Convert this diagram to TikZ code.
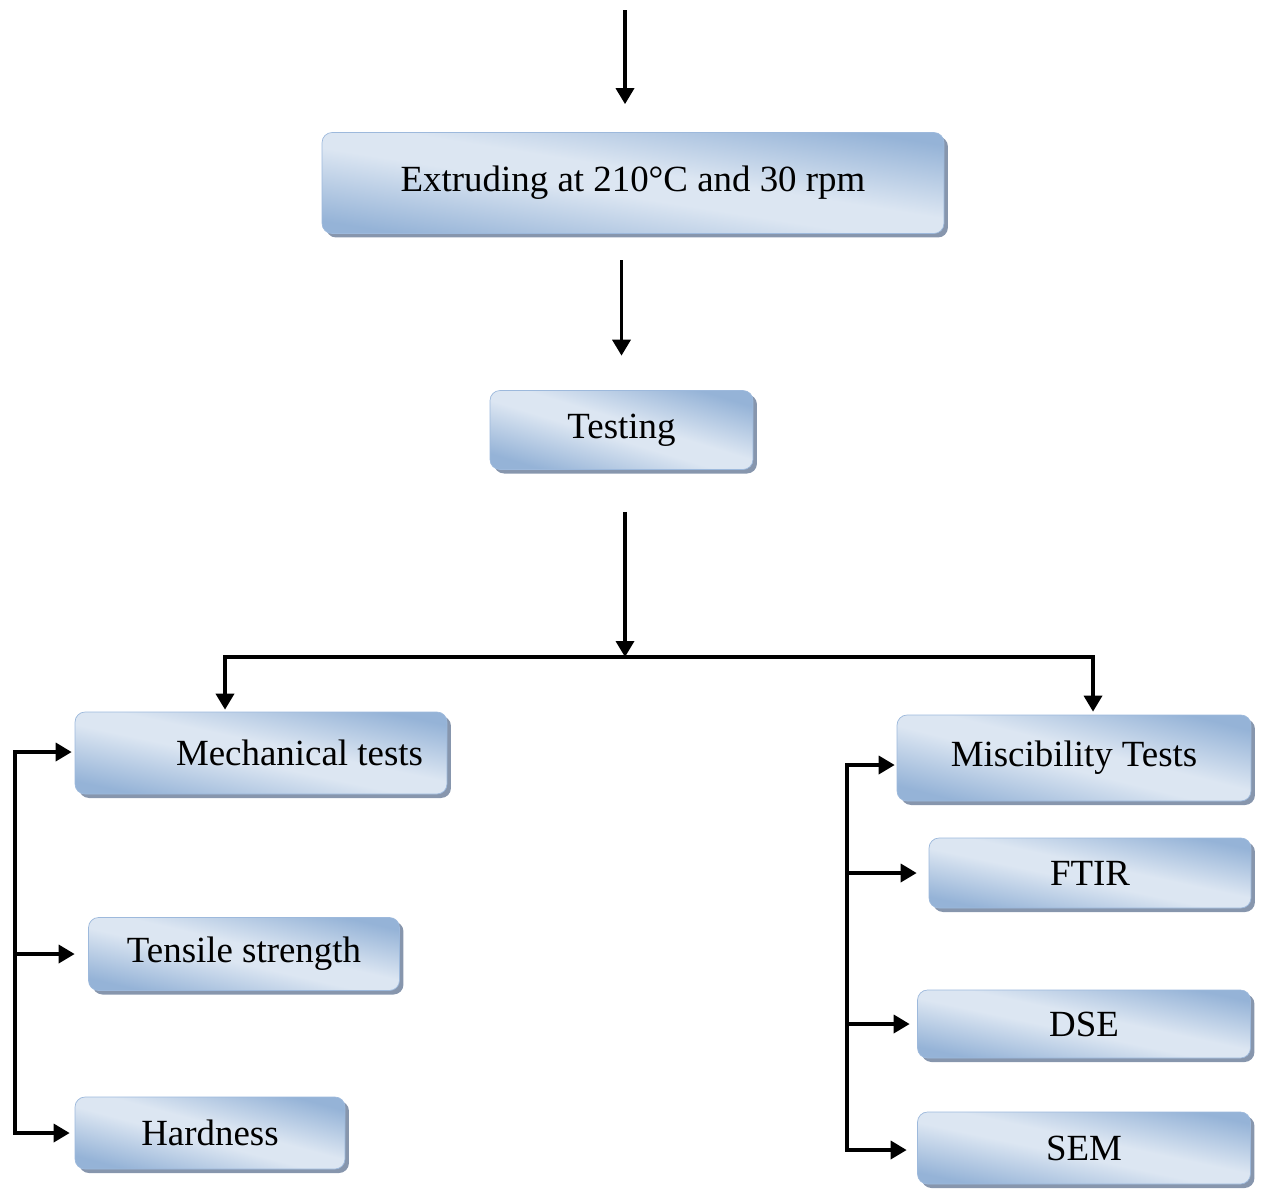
\documentclass[tikz,border=0pt]{standalone}
\usepackage{fontspec}
\setmainfont{Liberation Serif}
\usepackage{xcolor}
\usepackage{tikz}
\usetikzlibrary{arrows.meta,shadows}

\definecolor{boxlight}{HTML}{DCE6F2}
\definecolor{boxdark}{HTML}{95B3D7}
\definecolor{boxline}{HTML}{9DB9DC}
\definecolor{boxshadow}{HTML}{8796AD}
\pgfdeclareverticalshading{boxshade}{100bp}{color(0bp)=(boxdark); color(25bp)=(boxdark);
	color(46bp)=(boxlight); color(54bp)=(boxlight); color(75bp)=(boxdark); color(100bp)=(boxdark)}

\begin{document}
\begin{tikzpicture}[x=0.02cm,y=-0.02cm,
	box/.style={rounded corners=0.2cm,draw=boxline,thin,shade,shading=boxshade,shading angle=#1,
		drop shadow={shadow xshift=0.08cm,shadow yshift=-0.08cm,fill=boxshadow,opacity=1},
		font=\fontsize{21}{25}\selectfont,inner sep=0pt},
	box/.default=-12,
	arr/.style={line width=0.07cm,-{Triangle[length=0.32cm,width=0.36cm]}},
	arrs/.style={line width=0.07cm,{Triangle[length=0.32cm,width=0.36cm]}-{Triangle[length=0.32cm,width=0.36cm]}}]
	\useasboundingbox (0,0) rectangle (1264,1191);

	% boxes
	\node[box=-9,minimum width=12.44cm,minimum height=2.02cm] (ext) at (633,183) {Extruding at 210°C and 30 rpm};
	\node[box=-17,minimum width=5.26cm,minimum height=1.58cm] (test) at (621.5,430) {Testing};
	\node[box,minimum width=7.44cm,minimum height=1.64cm,inner xsep=0.48cm] (mech) at (261,753) {\makebox[6.48cm][r]{Mechanical tests}};
	\node[box=-13,minimum width=6.22cm,minimum height=1.46cm] (tens) at (244,954) {Tensile strength};
	\node[box=-15,minimum width=5.4cm,minimum height=1.44cm] (hard) at (210,1133) {Hardness};
	\node[box=-14,minimum width=7.08cm,minimum height=1.72cm] (misc) at (1074,758) {Miscibility Tests};
	\node[box,minimum width=6.44cm,minimum height=1.4cm] (ftir) at (1090,873) {FTIR};
	\node[box,minimum width=6.66cm,minimum height=1.36cm] (dse) at (1084,1024) {DSE};
	\node[box,minimum width=6.66cm,minimum height=1.44cm] (sem) at (1084,1148) {SEM};

	\coordinate (start) at (625,10);
	\coordinate (join) at (625,657);
	\coordinate (bl) at (225,657);
	\coordinate (br) at (1093,657);
	\coordinate (lt) at (15,752);
	\coordinate (lb) at (15,1133);
	\coordinate (rt) at (847,765);
	\coordinate (rb) at (847,1150);

	% arrows
	\draw[arr,shorten >=0.56cm] (start) -- (start |- ext.north);
	\draw[arr,shorten <=0.53cm,shorten >=0.69cm] (ext.south -| test.north) -- (test.north);
	\draw[arr,shorten <=0.84cm] (test.south -| join) -- (join);
	\draw[arrs,shorten <=0.04cm,shorten >=0.06cm] (bl |- mech.north) -- (bl) -- (br) -- (br |- misc.north);

	\draw[arrs,shorten <=0.06cm,shorten >=0.1cm] (lt -| mech.west) -- (lt) -- (lb) -- (lb -| hard.west);
	\draw[arr,shorten >=0.27cm] (lt |- tens) -- (tens.west);

	\draw[arrs,shorten <=0.04cm,shorten >=0.21cm] (rt -| misc.west) -- (rt) -- (rb) -- (rb -| sem.west);
	\draw[arr,shorten >=0.24cm] (rt |- ftir) -- (ftir.west);
	\draw[arr,shorten >=0.15cm] (rt |- dse) -- (dse.west);
\end{tikzpicture}
\end{document}
